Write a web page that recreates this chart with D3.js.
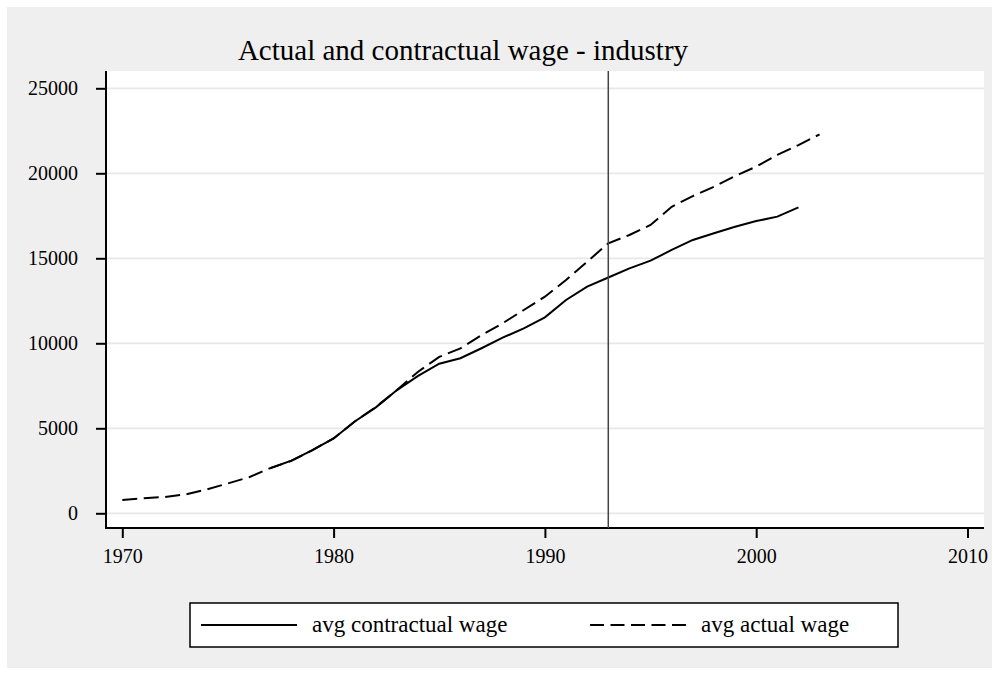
<!doctype html>
<meta charset="utf-8">

<style>
 body { margin: 0; background: #fff; }
 svg text {
     font-family: "Liberation Serif", "Times New Roman", serif;
     fill: #000;
 }
 .tick text { font-size: 20px; }
 .grid line { stroke: #e8e8e8; stroke-width: 1.7px; }
</style>

<svg width="999" height="675"></svg>

<script src="https://d3js.org/d3.v7.min.js"></script>
<script>
 // Data
 var years = [1970, 1971, 1972, 1973, 1974, 1975, 1976, 1977, 1978, 1979,
              1980, 1981, 1982, 1983, 1984, 1985, 1986, 1987, 1988, 1989,
              1990, 1991, 1992, 1993, 1994, 1995, 1996, 1997, 1998, 1999,
              2000, 2001, 2002, 2003];
 var actualWage = [780, 880, 960, 1110, 1410, 1760, 2120, 2660, 3080, 3720,
                   4400, 5400, 6250, 7250, 8330, 9200, 9700, 10480, 11180, 11960,
                   12740, 13720, 14800, 15880, 16370, 16960, 18030, 18660, 19210, 19840,
                   20390, 21080, 21660, 22290];
 // contractual wage starts in 1977 and ends in 2002
 var contractYears = years.slice(7, 33);
 var contractWage = [2650, 3100, 3720, 4400, 5400, 6230, 7250, 8080, 8800, 9120,
                     9710, 10330, 10880, 11530, 12550, 13330, 13870, 14410, 14860, 15490,
                     16080, 16470, 16860, 17190, 17450, 18000];
 var xTicks = [1970, 1980, 1990, 2000, 2010];
 var yTicks = [0, 5000, 10000, 15000, 20000, 25000];
 var markerYear = 1993;

 var svg = d3.select('svg');

 // plot region
 var plot = { left: 106, right: 984, top: 71, bottom: 528 };

 var x = d3.scaleLinear().domain([1970, 2010]).range([122.3, 967.5]);
 var y = d3.scaleLinear().domain([0, 25000]).range([513.3, 88.3]);

 // backgrounds
 svg.append('rect')
   .attr('x', 7).attr('y', 7).attr('width', 985).attr('height', 661)
   .attr('fill', '#efefef');
 svg.append('rect')
   .attr('x', plot.left).attr('y', plot.top)
   .attr('width', plot.right - plot.left).attr('height', plot.bottom - plot.top)
   .attr('fill', '#fff');

 // grid
 svg.append('g').attr('class', 'grid')
   .selectAll('line').data(yTicks).join('line')
   .attr('x1', plot.left).attr('x2', plot.right)
   .attr('y1', function(d) { return y(d); })
   .attr('y2', function(d) { return y(d); });

 // axes
 var yAxis = svg.append('g')
   .attr('transform', 'translate(' + plot.left + ',0)')
   .call(d3.axisLeft(y).tickValues(yTicks).tickSize(10).tickPadding(18)
         .tickFormat(d3.format('d')));
 var xAxis = svg.append('g')
   .attr('transform', 'translate(0,' + plot.bottom + ')')
   .call(d3.axisBottom(x).tickValues(xTicks).tickSize(10).tickPadding(11)
         .tickFormat(d3.format('d')));
 [yAxis, xAxis].forEach(function(a) {
   a.select('.domain').remove();
   a.selectAll('.tick line').attr('stroke', '#000').attr('stroke-width', 2);
   a.selectAll('.tick text').attr('fill', '#000');
 });

 svg.append('line')
   .attr('x1', plot.left).attr('x2', plot.left)
   .attr('y1', plot.top).attr('y2', plot.bottom + 1)
   .attr('stroke', '#000').attr('stroke-width', 2);
 svg.append('line')
   .attr('x1', plot.left - 1).attr('x2', plot.right)
   .attr('y1', plot.bottom).attr('y2', plot.bottom)
   .attr('stroke', '#000').attr('stroke-width', 2);

 // series
 var line = d3.line()
   .x(function(d) { return x(d[0]); })
   .y(function(d) { return y(d[1]); });

 svg.append('path')
   .datum(d3.zip(years, actualWage))
   .attr('d', line)
   .attr('fill', 'none').attr('stroke', '#000').attr('stroke-width', 2)
   .attr('stroke-dasharray', '15,6.5');

 svg.append('path')
   .datum(d3.zip(contractYears, contractWage))
   .attr('d', line)
   .attr('fill', 'none').attr('stroke', '#000').attr('stroke-width', 2);

 // vertical marker
 svg.append('line')
   .attr('x1', x(markerYear)).attr('x2', x(markerYear))
   .attr('y1', plot.top).attr('y2', plot.bottom)
   .attr('stroke', '#444').attr('stroke-width', 1.5);

 // title
 svg.append('text')
   .attr('x', 463).attr('y', 60)
   .attr('text-anchor', 'middle')
   .style('font-size', '29px')
   .text('Actual and contractual wage - industry');

 // legend
 var lg = svg.append('g');
 lg.append('rect')
   .attr('x', 190).attr('y', 603).attr('width', 708).attr('height', 44)
   .attr('fill', '#fff').attr('stroke', '#000').attr('stroke-width', 1.5);
 var items = [
   { label: 'avg contractual wage', x0: 201, dash: null },
   { label: 'avg actual wage', x0: 590, dash: '14,6.5' }
 ];
 items.forEach(function(it) {
   lg.append('line')
     .attr('x1', it.x0).attr('x2', it.x0 + 96)
     .attr('y1', 625).attr('y2', 625)
     .attr('stroke', '#000').attr('stroke-width', 2)
     .attr('stroke-dasharray', it.dash);
   lg.append('text')
     .attr('x', it.x0 + 111).attr('y', 632)
     .style('font-size', '23px')
     .text(it.label);
 });
</script>
